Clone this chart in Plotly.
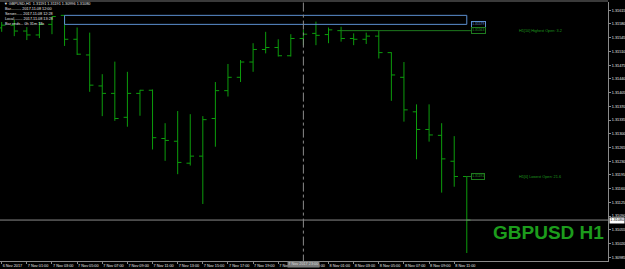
import plotly.graph_objects as go
import pandas as pd

# ---------------- data (GBPUSD H1) ----------------
times = [
    "2017-11-06 23:00",
    "2017-11-07 00:00", "2017-11-07 01:00", "2017-11-07 02:00", "2017-11-07 03:00",
    "2017-11-07 04:00", "2017-11-07 05:00", "2017-11-07 06:00", "2017-11-07 07:00",
    "2017-11-07 08:00", "2017-11-07 09:00", "2017-11-07 10:00", "2017-11-07 11:00",
    "2017-11-07 12:00", "2017-11-07 13:00", "2017-11-07 14:00", "2017-11-07 15:00",
    "2017-11-07 16:00", "2017-11-07 17:00", "2017-11-07 18:00", "2017-11-07 19:00",
    "2017-11-07 20:00", "2017-11-07 21:00", "2017-11-07 22:00", "2017-11-07 23:00",
    "2017-11-08 00:00", "2017-11-08 01:00", "2017-11-08 02:00", "2017-11-08 03:00",
    "2017-11-08 04:00", "2017-11-08 05:00", "2017-11-08 06:00", "2017-11-08 07:00",
    "2017-11-08 08:00", "2017-11-08 09:00", "2017-11-08 10:00", "2017-11-08 11:00",
    "2017-11-08 12:00",
]
opens = [1.31570, 1.31577, 1.31562, 1.31552, 1.31579, 1.31602, 1.31541, 1.31501,
         1.31422, 1.31403, 1.31342, 1.31403, 1.31411, 1.31288, 1.31281, 1.31225,
         1.31243, 1.31339, 1.31410, 1.31444, 1.31483, 1.31515, 1.31520, 1.31499,
         1.31543, 1.31556, 1.31553, 1.31563, 1.31543, 1.31541, 1.31549, 1.31507,
         1.31444, 1.31356, 1.31311, 1.31296, 1.31230, 1.31191]
highs = [1.31585, 1.31590, 1.31572, 1.31585, 1.31599, 1.31602, 1.31571, 1.31558,
         1.31452, 1.31484, 1.31458, 1.31412, 1.31413, 1.31327, 1.31358, 1.31350,
         1.31345, 1.31432, 1.31478, 1.31488, 1.31531, 1.31560, 1.31541, 1.31554,
         1.31565, 1.31586, 1.31571, 1.31573, 1.31556, 1.31558, 1.31563, 1.31508,
         1.31483, 1.31375, 1.31375, 1.31327, 1.31294, 1.31191]
lows = [1.31560, 1.31549, 1.31539, 1.31544, 1.31554, 1.31524, 1.31501, 1.31407,
        1.31345, 1.31333, 1.31318, 1.31346, 1.31260, 1.31231, 1.31197, 1.31219,
        1.31121, 1.31267, 1.31395, 1.31432, 1.31458, 1.31505, 1.31497, 1.31497,
        1.31526, 1.31526, 1.31531, 1.31535, 1.31526, 1.31529, 1.31492, 1.31384,
        1.31331, 1.31235, 1.31280, 1.31150, 1.31165, 1.30996]
closes = [1.31577, 1.31562, 1.31552, 1.31579, 1.31599, 1.31541, 1.31503, 1.31424,
          1.31403, 1.31339, 1.31403, 1.31411, 1.31290, 1.31283, 1.31227, 1.31243,
          1.31336, 1.31410, 1.31444, 1.31483, 1.31515, 1.31520, 1.31499, 1.31543,
          1.31554, 1.31551, 1.31565, 1.31543, 1.31541, 1.31549, 1.31507, 1.31450,
          1.31361, 1.31311, 1.31297, 1.31236, 1.31191, 1.31080]

x_tick_times = ["2017-11-06 23:00", "2017-11-07 01:00", "2017-11-07 03:00", "2017-11-07 05:00",
                "2017-11-07 07:00", "2017-11-07 09:00", "2017-11-07 11:00", "2017-11-07 13:00",
                "2017-11-07 15:00", "2017-11-07 17:00", "2017-11-07 19:00", "2017-11-07 21:00",
                "2017-11-07 23:00", "2017-11-08 01:00", "2017-11-08 03:00", "2017-11-08 05:00",
                "2017-11-08 07:00", "2017-11-08 09:00", "2017-11-08 11:00"]
x_tick_labels = ["6 Nov 2017", "7 Nov 01:00", "7 Nov 03:00", "7 Nov 05:00", "7 Nov 07:00",
                 "7 Nov 09:00", "7 Nov 11:00", "7 Nov 13:00", "7 Nov 15:00", "7 Nov 17:00",
                 "7 Nov 19:00", "7 Nov 21:00", "7 Nov 23:00", "8 Nov 01:00", "8 Nov 03:00",
                 "8 Nov 05:00", "8 Nov 07:00", "8 Nov 09:00", "8 Nov 11:00"]
y_tick_values = [1.31615, 1.31580, 1.31545, 1.31510, 1.31475, 1.31440, 1.31405, 1.31370,
                 1.31335, 1.31300, 1.31265, 1.31230, 1.31195, 1.31160, 1.31125, 1.31090,
                 1.31055, 1.31020, 1.30985]

zone_top = 1.31602
zone_bottom = 1.31579
highest_open = 1.31563
lowest_open = 1.31191
bid = 1.31080
vline_time = "2017-11-07 23:00"
zone_start = "2017-11-07 04:00"
hi_open_start = "2017-11-08 02:00"

info_lines = [
    "\u25bc GBPUSD,H1  1.31191 1.31191 1.30996 1.31080",
    "Bar.......... 2017.11.08 12:00",
    "Server...... 2017.11.08 12:28",
    "Local........ 2017.11.08 13:28",
    "Bar ends... 0h 31m 18s",
]

# ---------------- styling ----------------
GREEN = "#0c9c0c"
GRID_GREY = "#8a8a8a"
TXT = "#e6e6e6"
SMALL = 3.8
FONT = "Liberation Sans, Arial, sans-serif"

W, H = 625, 269
ML, MR, MT, MB = 0, 17, 2, 8
PW, PH = W - ML - MR, H - MT - MB

def xp(px):
    return (px - ML) / PW

def yp(py):
    return (H - MB - py) / PH

t = pd.to_datetime(times)
base = pd.Timestamp("2017-11-07 00:00")
hour_px = 12.57
x0_px = 14.27
x_range = [base + pd.Timedelta(hours=(0 - x0_px) / hour_px),
           base + pd.Timedelta(hours=(PW - x0_px) / hour_px)]
px_per_price = 1 / 0.0000255
y_lo = lows[-1] - (261 - 253) / px_per_price
y_hi = y_lo + PH / px_per_price

fig = go.Figure()
fig.add_trace(go.Ohlc(
    x=t, open=opens, high=highs, low=lows, close=closes,
    increasing=dict(line=dict(color=GREEN, width=1)),
    decreasing=dict(line=dict(color=GREEN, width=1)),
    tickwidth=0.3, showlegend=False, hoverinfo="skip",
))

shapes = []
shapes.append(dict(type="rect", xref="x", yref="y",
                   x0=pd.Timestamp(zone_start), x1=t[-1],
                   y0=zone_bottom, y1=zone_top,
                   line=dict(color="#5b8fd0", width=1), fillcolor="rgba(0,0,0,0)"))
shapes.append(dict(type="line", xref="x", yref="y",
                   x0=pd.Timestamp(hi_open_start), x1=t[-1] + pd.Timedelta(minutes=20),
                   y0=highest_open, y1=highest_open,
                   line=dict(color="#1e7a1e", width=1)))
shapes.append(dict(type="line", xref="x", yref="y",
                   x0=t[-1], x1=t[-1] + pd.Timedelta(minutes=20),
                   y0=lowest_open, y1=lowest_open,
                   line=dict(color="#1e7a1e", width=1)))
shapes.append(dict(type="line", xref="paper", yref="y", x0=0, x1=1, y0=bid, y1=bid,
                   line=dict(color=GRID_GREY, width=1)))
shapes.append(dict(type="line", xref="x", yref="paper",
                   x0=pd.Timestamp(vline_time), x1=pd.Timestamp(vline_time),
                   y0=-0.01, y1=1,
                   line=dict(color=GRID_GREY, width=1, dash="dashdot")))
shapes.append(dict(type="rect", xref="paper", yref="paper", x0=0, x1=1,
                   y0=1, y1=1 + 2 / PH, line=dict(width=0), fillcolor="#3a3a3a"))

ann = []
info_y = [4, 9.2, 13.8, 18.7, 23.8]
for i, (line, py) in enumerate(zip(info_lines, info_y)):
    ann.append(dict(xref="paper", yref="paper", x=xp(2 if i == 0 else 2.5), y=yp(py),
                    xanchor="left", yanchor="middle", showarrow=False, text=line,
                    font=dict(family=FONT, size=SMALL, color=TXT)))

box_x = t[-1] + pd.Timedelta(minutes=20)
for val, col, bcol in [(zone_bottom, "#6a9ad6", "#5b8fd0"),
                       (highest_open, "#2a9a2a", "#1e7a1e"),
                       (lowest_open, "#2a9a2a", "#1e7a1e")]:
    ann.append(dict(xref="x", yref="y", x=box_x, y=val, xanchor="left", yanchor="middle",
                    showarrow=False, text=f"{val:.5f}", bgcolor="#000000",
                    bordercolor=bcol, borderwidth=1, borderpad=0.3,
                    font=dict(family=FONT, size=3.3, color=col)))

lbl_x = base + pd.Timedelta(hours=(517 - x0_px) / hour_px)
ann.append(dict(xref="x", yref="y", x=lbl_x, y=highest_open, xanchor="left", yanchor="middle",
                showarrow=False, text="H1[10] Highest Open: 3.2",
                font=dict(family=FONT, size=SMALL, color="#1f9a1f")))
ann.append(dict(xref="x", yref="y", x=lbl_x, y=lowest_open, xanchor="left", yanchor="middle",
                showarrow=False, text="H1[0] Lowest Open: 21.6",
                font=dict(family=FONT, size=SMALL, color="#1f9a1f")))

ann.append(dict(xref="paper", yref="paper", x=xp(606), y=yp(232), xanchor="right",
                yanchor="middle", showarrow=False, text="<b>GBPUSD H1</b>",
                font=dict(family="Liberation Sans Narrow, Arial Narrow, Liberation Sans, sans-serif",
                          size=19, color="#1c9c1c")))

ann.append(dict(xref="paper", yref="y", x=1, y=bid, xanchor="left", yanchor="middle",
                xshift=1, showarrow=False, text=f"{bid:.5f}", bgcolor="#ffffff",
                borderpad=0.3, font=dict(family=FONT, size=SMALL, color="#000000")))

ann.append(dict(xref="x", yref="paper", x=pd.Timestamp(vline_time), y=yp(264.6),
                xanchor="center", yanchor="middle", showarrow=False,
                text="7 Nov 2017 23:00", bgcolor="#7a7a7a", borderpad=0.3,
                font=dict(family=FONT, size=SMALL, color="#d8d8d8")))

fig.update_layout(
    width=W, height=H,
    margin=dict(l=ML, r=MR, t=MT, b=MB, pad=0, autoexpand=False),
    paper_bgcolor="#000000", plot_bgcolor="#000000",
    shapes=shapes, annotations=ann,
    xaxis=dict(type="date", range=x_range, rangeslider=dict(visible=False),
               showgrid=False, zeroline=False, automargin=False,
               tickvals=pd.to_datetime(x_tick_times), ticktext=x_tick_labels,
               tickangle=0,
               ticks="outside", ticklen=2, tickcolor=GRID_GREY,
               ticklabelposition="outside right",
               tickfont=dict(family=FONT, size=SMALL, color=TXT),
               showline=True, linecolor=GRID_GREY, linewidth=1, mirror=False),
    yaxis=dict(side="right", range=[y_lo, y_hi], showgrid=False, zeroline=False,
               automargin=False,
               tickvals=y_tick_values, ticktext=[f"{v:.5f}" for v in y_tick_values],
               ticks="outside", ticklen=2, tickcolor=GRID_GREY,
               tickfont=dict(family=FONT, size=SMALL, color=TXT),
               showline=True, linecolor=GRID_GREY, linewidth=1),
    hovermode=False,
)

fig.write_html("out.html")
